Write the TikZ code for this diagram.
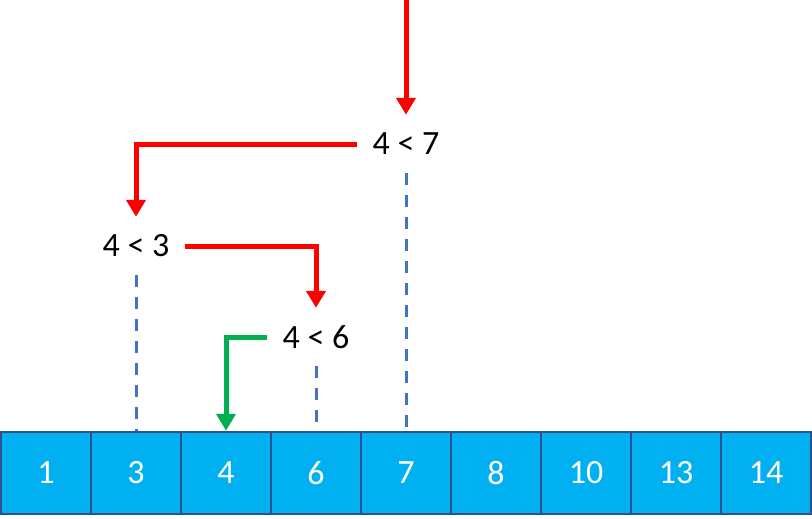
\documentclass[tikz,border=0pt]{standalone}
\usepackage{fontspec}
\setmainfont{Carlito}
\usetikzlibrary{arrows.meta}
\definecolor{cellfill}{HTML}{00B0F0}
\definecolor{cellline}{HTML}{2F528F}
\definecolor{dashblue}{HTML}{4472C4}
\definecolor{redline}{HTML}{FF0000}
\definecolor{greenline}{HTML}{00B050}
\begin{document}
\begin{tikzpicture}[x=1pt,y=-1pt,
  cell/.style={draw=cellline,line width=2.5pt,fill=cellfill,minimum width=90pt,minimum height=82pt,inner sep=0pt,text=white,font=\fontsize{34}{40}\selectfont},
  cmp/.style={minimum width=98pt,minimum height=58pt,inner sep=0pt,font=\fontsize{34}{40}\selectfont},
  redarrow/.style={draw=redline,line width=5pt,-{Triangle[length=17pt,width=19pt]}},
  greenarrow/.style={draw=greenline,line width=5pt,-{Triangle[length=17pt,width=19pt]}},
  guide/.style={draw=dashblue,line width=3pt,dash pattern=on 12pt off 10pt}]
\useasboundingbox (0,0) rectangle (812,519);
\foreach \v [count=\i from 0] in {1,3,4,6,7,8,10,13,14}
  \node[cell] (b\i) at ({46+90*\i},473) {\v};
\coordinate (top) at (406,0);
\node[cmp] (c7) at (406,144) {4 < 7};
\node[cmp] (c3) at (136,246) {4 < 3};
\node[cmp] (c6) at (316,337) {4 < 6};
\draw[guide] (c7.south) -- (b4.north);
\draw[guide] (c3.south) -- (b1.north);
\draw[guide] (c6.south) -- (b3.north);
\draw[redarrow] (top) -- (c7.north);
\draw[redarrow] (c7.west) -| (c3.north);
\draw[redarrow] (c3.east) -| (c6.north);
\draw[greenarrow] (c6.west) -| (b2.north);
\end{tikzpicture}
\end{document}
